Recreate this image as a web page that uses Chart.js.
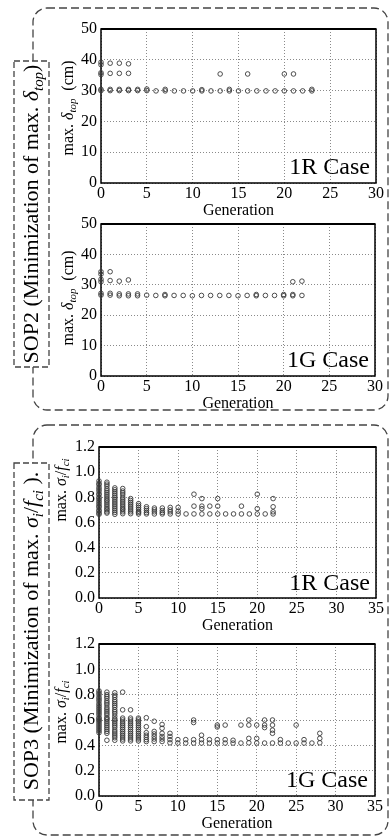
<!DOCTYPE html>
<html>
<head>
<meta charset="utf-8">
<script src="https://cdn.jsdelivr.net/npm/chart.js@4.4.0/dist/chart.umd.min.js"></script>
<style>
  body { margin: 0; background: #fff; }
  #page { position: relative; width: 390px; height: 837px; overflow: hidden;
          font-family: 'Liberation Serif', 'Times New Roman', serif; color: #000; }
  canvas { position: absolute; left: 0; }
  svg { position: absolute; left: 0; top: 0; }
  .rot { position: absolute; transform: translate(-50%, -50%) rotate(-90deg);
         white-space: nowrap; line-height: 1; }
  .ytitle { font-size: 16px; }
  .group { font-size: 22px; }
  .case { position: absolute; font-size: 24px; line-height: 24px; white-space: nowrap; }
  sub { font-size: 0.68em; vertical-align: -0.32em; line-height: 0; }
</style>
</head>
<body>
<div id="page">
  <svg width="390" height="837">
    <g fill="none" stroke="#444" stroke-width="1.3" stroke-dasharray="8 4">
      <rect x="33" y="8" width="355" height="402" rx="14"></rect>
      <rect x="33" y="425" width="355" height="410" rx="14"></rect>
    </g>
    <g fill="#fff" stroke="#444" stroke-width="1.3" stroke-dasharray="6 3">
      <rect x="14" y="61" width="35" height="306"></rect>
      <rect x="14" y="463" width="35" height="337"></rect>
    </g>
  </svg>

  <canvas id="c1"></canvas>
  <canvas id="c2"></canvas>
  <canvas id="c3"></canvas>
  <canvas id="c4"></canvas>

  <div class="rot group" style="left:31px; top:214px;">SOP2 (Minimization of max. <i>δ</i><sub><i>top</i></sub>)</div>
  <div class="rot group" style="left:31px; top:631px;">SOP3 (Minimization of max. <i>σ</i><sub><i>i</i></sub>/<i>f</i><sub><i>ci</i></sub> ).</div>

  <div class="rot ytitle" style="left:68px; top:108px;">max. <i>δ</i><sub><i>top</i></sub>&nbsp; (cm)</div>
  <div class="rot ytitle" style="left:68px; top:298px;">max. <i>δ</i><sub><i>top</i></sub>&nbsp; (cm)</div>
  <div class="rot ytitle" style="left:61px; top:490px;">max. <i>σ</i><sub><i>i</i></sub>/<i>f</i><sub><i>ci</i></sub></div>
  <div class="rot ytitle" style="left:61px; top:712px;">max. <i>σ</i><sub><i>i</i></sub>/<i>f</i><sub><i>ci</i></sub></div>

  <div class="case" style="right:20px; top:154px;">1R Case</div>
  <div class="case" style="right:21px; top:347px;">1G Case</div>
  <div class="case" style="right:20px; top:570px;">1R Case</div>
  <div class="case" style="right:22px; top:767px;">1G Case</div>
</div>

<script>
// values per generation (index = generation)
const sop2R = [
  [39.2, 38.4, 35.8, 35.2, 30.4, 30.0],
  [38.9, 35.6, 30.4, 30.0],
  [38.9, 35.6, 30.4, 30.0],
  [38.7, 35.6, 30.4, 30.0],
  [30.4, 30.0], [30.5, 30.0], [29.9], [30.4, 29.9], [29.9], [29.9], [29.9],
  [30.3, 29.9], [29.9], [35.4, 29.9], [30.4, 29.9], [29.9], [35.4, 29.9],
  [29.9], [29.9], [29.9], [35.4, 29.9], [35.4, 29.9], [29.9], [30.4, 29.9]
];

const sop2G = [
  [34.3, 33.5, 31.8, 31.0, 27.2, 26.6],
  [34.3, 31.4, 27.2, 26.6],
  [31.2, 27.0, 26.4],
  [31.6, 27.0, 26.4],
  [27.0, 26.4],
  [26.6], [26.5], [26.8, 26.4], [26.5], [26.5], [26.4], [26.5], [26.5], [26.5],
  [26.5], [26.4], [26.5], [26.8, 26.4], [26.5], [26.5], [26.8, 26.4],
  [31.0, 26.8, 26.4],
  [31.2, 26.5]
];

const sop3R = [
  [0.93, 0.91, 0.90, 0.88, 0.865, 0.85, 0.83, 0.82, 0.80, 0.79, 0.775, 0.76, 0.745, 0.73, 0.72, 0.70, 0.69, 0.675, 0.665],
  [0.92, 0.905, 0.89, 0.87, 0.855, 0.84, 0.825, 0.81, 0.795, 0.78, 0.77, 0.755, 0.74, 0.725, 0.71, 0.70, 0.685, 0.675],
  [0.875, 0.86, 0.845, 0.83, 0.815, 0.80, 0.785, 0.77, 0.755, 0.74, 0.725, 0.71, 0.695, 0.68, 0.665],
  [0.87, 0.85, 0.835, 0.82, 0.80, 0.785, 0.77, 0.755, 0.74, 0.725, 0.71, 0.70, 0.685, 0.67],
  [0.79, 0.775, 0.76, 0.745, 0.73, 0.715, 0.70, 0.685, 0.67],
  [0.75, 0.735, 0.72, 0.705, 0.69, 0.68, 0.668],
  [0.725, 0.71, 0.695, 0.68, 0.668],
  [0.715, 0.70, 0.685, 0.668],
  [0.715, 0.695, 0.68, 0.668],
  [0.72, 0.70, 0.685, 0.668],
  [0.72, 0.69, 0.668],
  [0.668],
  [0.825, 0.73, 0.668],
  [0.79, 0.73, 0.71, 0.668],
  [0.73, 0.668],
  [0.79, 0.73, 0.668],
  [0.668], [0.668],
  [0.73, 0.668],
  [0.668],
  [0.825, 0.71, 0.668],
  [0.668],
  [0.79, 0.725, 0.685, 0.668]
];

const sop3G = [
  [0.83, 0.815, 0.80, 0.78, 0.765, 0.75, 0.73, 0.715, 0.70, 0.685, 0.67, 0.655, 0.64, 0.62, 0.61, 0.60, 0.59, 0.575, 0.56, 0.545, 0.53, 0.515, 0.50],
  [0.82, 0.80, 0.785, 0.77, 0.75, 0.735, 0.72, 0.70, 0.685, 0.67, 0.655, 0.64, 0.62, 0.61, 0.60, 0.585, 0.57, 0.555, 0.54, 0.525, 0.51, 0.495, 0.44],
  [0.815, 0.795, 0.78, 0.76, 0.745, 0.73, 0.715, 0.70, 0.68, 0.665, 0.65, 0.63, 0.61, 0.60, 0.585, 0.57, 0.555, 0.54, 0.52, 0.505, 0.49, 0.475, 0.46, 0.44],
  [0.82, 0.68, 0.615, 0.60, 0.585, 0.57, 0.555, 0.54, 0.525, 0.51, 0.495, 0.48, 0.465, 0.45, 0.435],
  [0.68, 0.615, 0.60, 0.585, 0.57, 0.555, 0.54, 0.525, 0.51, 0.495, 0.48, 0.465, 0.45, 0.435],
  [0.615, 0.60, 0.585, 0.57, 0.555, 0.54, 0.525, 0.51, 0.495, 0.48, 0.465, 0.45, 0.435],
  [0.618, 0.547, 0.50, 0.48, 0.463, 0.445, 0.43],
  [0.59, 0.51, 0.49, 0.47, 0.45, 0.43],
  [0.565, 0.535, 0.495, 0.47, 0.45, 0.43],
  [0.495, 0.47, 0.445, 0.42],
  [0.445, 0.418],
  [0.445, 0.418],
  [0.60, 0.58, 0.445, 0.418],
  [0.48, 0.445, 0.418],
  [0.445, 0.418],
  [0.56, 0.545, 0.445, 0.418],
  [0.56, 0.445, 0.418],
  [0.44, 0.418],
  [0.56, 0.418],
  [0.60, 0.56, 0.455, 0.42],
  [0.56, 0.455, 0.418],
  [0.60, 0.56, 0.54, 0.418],
  [0.60, 0.56, 0.52, 0.495, 0.418],
  [0.445, 0.418],
  [0.418],
  [0.56, 0.418],
  [0.445, 0.418],
  [0.418],
  [0.495, 0.455, 0.42]
];

const genTicks30 = [0, 5, 10, 15, 20, 25, 30];
const genTicks35 = [0, 5, 10, 15, 20, 25, 30, 35];
const deltaTicks = [0, 10, 20, 30, 40, 50];
const ratioTicks = [0, 0.2, 0.4, 0.6, 0.8, 1.0, 1.2];

const FONT = "'Liberation Serif', 'Times New Roman', serif";

const frame = {
  id: 'frame',
  beforeDatasetsDraw(chart) {
    const { ctx, chartArea: a } = chart;
    ctx.save();
    ctx.strokeStyle = '#000';
    ctx.lineWidth = 1.5;
    ctx.strokeRect(a.left, a.top, a.right - a.left, a.bottom - a.top);
    ctx.lineWidth = 2.2;
    ctx.beginPath();
    ctx.moveTo(a.left, a.top);
    ctx.lineTo(a.right, a.top);
    ctx.stroke();
    ctx.restore();
  }
};

function makeChart(id, rows, xTicks, yTicks, digits, box) {
  const cv = document.getElementById(id);
  const padTop = 14, xh = 36;
  cv.width = 390;
  cv.height = (box.bottom - box.top) + padTop + xh;
  cv.style.top = (box.top - padTop) + 'px';

  const points = [];
  rows.forEach((vals, gen) => vals.forEach(v => points.push({ x: gen, y: v })));

  const tickFont = { family: FONT, size: 16, lineHeight: 1 };

  new Chart(cv, {
    type: 'scatter',
    data: {
      datasets: [{
        data: points,
        pointRadius: 2.3,
        pointBorderWidth: 0.9,
        pointBorderColor: '#3a3a3a',
        pointBackgroundColor: 'rgba(0,0,0,0)',
        clip: false
      }]
    },
    options: {
      responsive: false,
      animation: false,
      events: [],
      layout: { padding: { top: padTop, right: 390 - box.right, bottom: 0, left: 0 } },
      plugins: { legend: { display: false }, tooltip: { enabled: false } },
      scales: {
        x: {
          type: 'linear',
          min: xTicks[0],
          max: xTicks[xTicks.length - 1],
          afterBuildTicks: s => { s.ticks = xTicks.map(v => ({ value: v })); },
          afterFit: s => { s.height = xh; },
          grid: { color: '#8a8a8a', lineWidth: 1, drawTicks: false },
          border: { display: false, dash: [1, 2] },
          ticks: { font: tickFont, color: '#000', padding: 3, maxRotation: 0 },
          title: { display: true, text: 'Generation', color: '#000',
                   font: { family: FONT, size: 16, lineHeight: 1 }, padding: { top: 1, bottom: 0 } }
        },
        y: {
          min: yTicks[0],
          max: yTicks[yTicks.length - 1],
          afterBuildTicks: s => { s.ticks = yTicks.map(v => ({ value: v })); },
          afterFit: s => { s.width = box.left; },
          grid: { color: '#8a8a8a', lineWidth: 1, drawTicks: false },
          border: { display: false, dash: [1, 2] },
          ticks: { font: tickFont, color: '#000', padding: 4,
                   callback: v => Number(v).toFixed(digits) }
        }
      }
    },
    plugins: [frame]
  });
}

makeChart('c1', sop2R, genTicks30, deltaTicks, 0, { left: 101, right: 376, top: 29, bottom: 183 });
makeChart('c2', sop2G, genTicks30, deltaTicks, 0, { left: 101, right: 375, top: 224, bottom: 376 });
makeChart('c3', sop3R, genTicks35, ratioTicks, 1, { left: 99, right: 376, top: 447, bottom: 598 });
makeChart('c4', sop3G, genTicks35, ratioTicks, 1, { left: 99, right: 375, top: 644, bottom: 796 });
</script>
</body>
</html>
